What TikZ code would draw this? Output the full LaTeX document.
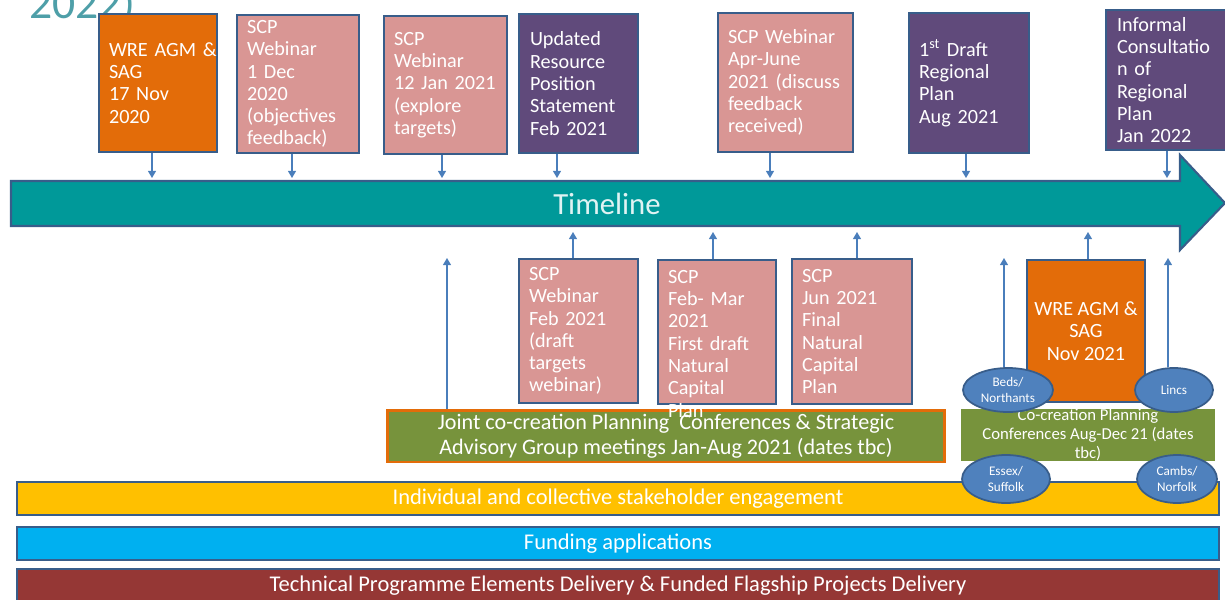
\documentclass[tikz,border=0pt]{standalone}
\usepackage{fontspec}
\setmainfont{Carlito}
\usetikzlibrary{shapes.geometric,arrows.meta}

\definecolor{wreorange}{HTML}{E36C09}
\definecolor{scppink}{HTML}{D99694}
\definecolor{planpurple}{HTML}{604A7B}
\definecolor{lineteal}{HTML}{009999}
\definecolor{edgeblue}{HTML}{385D8A}
\definecolor{arrowblue}{HTML}{4A7EBB}
\definecolor{confgreen}{HTML}{77933C}
\definecolor{countyblue}{HTML}{4F81BD}
\definecolor{engyellow}{HTML}{FFC000}
\definecolor{fundblue}{HTML}{00B0F0}
\definecolor{techred}{HTML}{953735}
\definecolor{titleteal}{HTML}{4E9FA8}

\tikzset{
  event/.style={draw=edgeblue, line width=1.2pt, text=white, align=left,
    font=\fontsize{11.5}{12.7}\selectfont, inner sep=0pt},
  band/.style={draw=edgeblue, line width=1.2pt, minimum width=24.04cm,
    minimum height=0.66cm, text=white, font=\fontsize{12.8}{14}\selectfont, inner sep=0pt},
  county/.style={ellipse, draw=edgeblue, line width=1pt, fill=countyblue, text=white,
    font=\fontsize{7.5}{9.5}\selectfont, inner sep=0pt, align=center},
  arr/.style={draw=arrowblue, line width=0.7pt, -{Triangle[length=4pt,width=4.5pt]}}
}

\begin{document}
\begin{tikzpicture}[x=0.02cm, y=-0.02cm]
  \useasboundingbox (0,0) rectangle (1225,599);
  \node[anchor=base west, inner sep=0pt, text=titleteal, font=\fontsize{26}{28}\selectfont] (year) at (29,18) {2022)};

  % events above the timeline
  \node[event, fill=wreorange, minimum width=2.36cm, minimum height=2.76cm, text width=1.96cm] (wre1) at (158,83) {WRE~AGM~\&\\SAG\\17 Nov\\2020};
  \node[event, fill=scppink, minimum width=2.44cm, minimum height=2.76cm, text width=2.04cm] (scp1) at (298,84) {SCP\\Webinar\\1 Dec\\2020\\(objectives\\feedback)};
  \node[event, fill=scppink, minimum width=2.46cm, minimum height=2.76cm, text width=2.06cm] (scp2) at (445.5,85) {SCP\\Webinar\\12~Jan~2021\\(explore\\targets)};
  \node[event, fill=planpurple, minimum width=2.38cm, minimum height=2.78cm, text width=1.94cm] (rps) at (578.5,83.5) {Updated\\Resource\\Position\\Statement\\Feb 2021};
  \node[event, fill=scppink, minimum width=2.70cm, minimum height=2.78cm, text width=2.30cm] (scp3) at (785.5,82.5) {SCP~Webinar\\Apr-June\\2021~(discuss\\feedback\\received)};
  \node[event, fill=planpurple, minimum width=2.40cm, minimum height=2.80cm, text width=2.00cm] (draft) at (969,83) {1\textsuperscript{st} Draft\\Regional\\Plan\\Aug 2021};
  \node[event, fill=planpurple, minimum width=2.52cm, minimum height=2.80cm, text width=2.08cm] (cons) at (1169,80) {Informal\\Consultatio\\n of\\Regional\\Plan\\Jan 2022};

  % timeline
  \draw[draw=edgeblue, line width=1.2pt, fill=lineteal] (11,181) -- (1180,181) -- (1180,155) -- (1225,203) -- (1180,250) -- (1180,226) -- (11,226) -- cycle;
  \node[text=white!88!lineteal, font=\fontsize{17.5}{20}\selectfont] (tl) at (607,204) {Timeline};

  \foreach \b/\x in {wre1/152, scp1/292, scp2/442, rps/557, scp3/770, draft/966, cons/1167} {
    \coordinate (d\b) at (\x,178);
    \draw[arr] (\b.south -| d\b) -- (d\b);
  }

  % bars
  \node[draw=wreorange, line width=1.7pt, fill=confgreen, minimum width=11.16cm, minimum height=1.04cm, text=white, align=center, font=\fontsize{12.6}{14}\selectfont, inner sep=0pt] (joint) at (666,436) {Joint co-creation Planning\ \ Conferences \& Strategic\\Advisory Group meetings Jan-Aug 2021 (dates tbc)};
  \node[fill=confgreen, minimum width=5.08cm, minimum height=1.0cm, text=white, align=center, font=\fontsize{9.5}{10.8}\selectfont, inner sep=0pt] (cocr) at (1088,435) {Co-creation Planning\\Conferences Aug-Dec 21 (dates\\tbc)};
  \node[band, fill=engyellow] (engage) at (618,498.5) {Individual and collective stakeholder engagement};
  \node[band, fill=fundblue] (fund) at (618,543.5) {Funding applications};
  \node[band, fill=techred] (tech) at (618,585.5) {Technical Programme Elements Delivery \& Funded Flagship Projects Delivery};

  % events below the timeline
  \node[event, fill=scppink, minimum width=2.38cm, minimum height=2.88cm, text width=1.98cm] (scp4) at (578.5,331) {SCP\\Webinar\\Feb 2021\\(draft\\targets\\webinar)};
  \node[event, fill=scppink, minimum width=2.36cm, minimum height=2.88cm] (scp5) at (717,332) {};
  \node[event, draw=none, anchor=north west, text width=1.96cm] (scp5txt) at ([xshift=0.2cm, yshift=-0.2cm]scp5.north west) {SCP\\Feb- Mar\\2021\\First draft\\Natural\\Capital\\Plan};
  \node[event, fill=scppink, minimum width=2.40cm, minimum height=2.90cm, text width=2.00cm] (scp6) at (852,331.5) {SCP\\Jun 2021\\Final\\Natural\\Capital\\Plan};
  \node[event, fill=wreorange, minimum width=2.36cm, minimum height=2.84cm, align=center] (wre2) at (1086,331) {WRE AGM \&\\SAG\\Nov 2021};

  \node[county, minimum width=1.80cm, minimum height=0.88cm] (beds) at (1008,390) {Beds/\\Northants};
  \node[county, minimum width=1.56cm, minimum height=0.88cm] (lincs) at (1174,390) {Lincs};
  \node[county, minimum width=1.76cm, minimum height=0.96cm] (essex) at (1006,479) {Essex/\\Suffolk};
  \node[county, minimum width=1.60cm, minimum height=0.96cm] (cambs) at (1177,479) {Cambs/\\Norfolk};

  \foreach \b/\x/\y in {joint/447/258, scp4/573/232, scp5/713/232, scp6/857/232, wre2/1088/232, beds/1004/258, lincs/1168/258} {
    \coordinate (u\b) at (\x,\y);
    \draw[arr] (\b.north -| u\b) -- (u\b);
  }
\end{tikzpicture}
\end{document}
